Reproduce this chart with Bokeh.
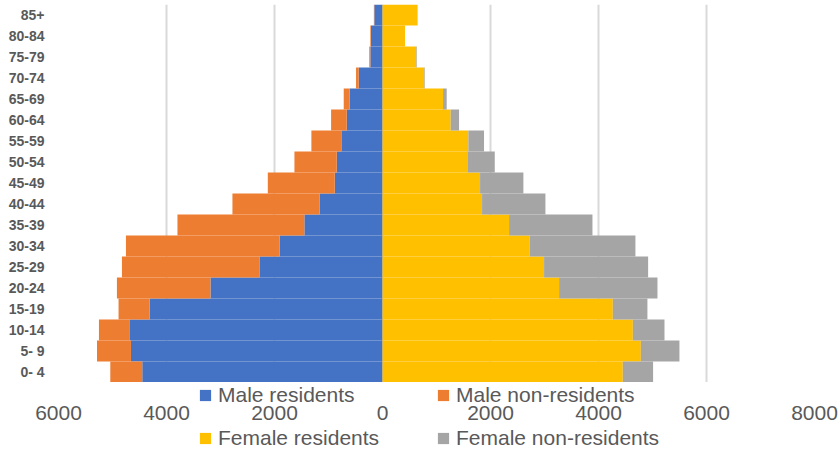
from bokeh.plotting import figure
from bokeh.layouts import column
from bokeh.models import (ColumnDataSource, FactorRange, Range1d, FixedTicker,
                          Legend, LegendItem)
from bokeh.core.properties import value
from bokeh.embed import file_html
from bokeh.resources import INLINE

ages = ["0- 4", "5- 9", "10-14", "15-19", "20-24", "25-29", "30-34", "35-39",
        "40-44", "45-49", "50-54", "55-59", "60-64", "65-69", "70-74", "75-79",
        "80-84", "85+"]
male_residents = [4449, 4658, 4677, 4314, 3186, 2279, 1902, 1447, 1162, 884,
                  847, 762, 662, 607, 440, 225, 213, 152]
male_non_residents = [592, 629, 574, 574, 1732, 2546, 2849, 2350, 1617, 1240,
                      784, 555, 290, 111, 50, 20, 12, 8]
female_residents = [4450, 4784, 4636, 4265, 3270, 2992, 2727, 2344, 1844, 1807,
                    1572, 1590, 1263, 1121, 775, 627, 417, 645]
female_non_residents = [561, 715, 586, 641, 1822, 1927, 1957, 1544, 1173, 802,
                        507, 290, 155, 68, 10, 10, 0, 5]
x_ticks = [-6000, -4000, -2000, 0, 2000, 4000, 6000, 8000]
x_tick_labels = ["6000", "4000", "2000", "0", "2000", "4000", "6000", "8000"]

series_labels = ["Male residents", "Male non-residents",
                 "Female residents", "Female non-residents"]
colors = ["#4472C4", "#ED7D31", "#FFC000", "#A5A5A5"]
TEXT = "#595959"
FONT = "Liberation Sans"

W, LEFT, RIGHT = 839, 58, 25
X0, X1 = -6000, 8000

src = ColumnDataSource(dict(
    age=ages,
    m_res=[-v for v in male_residents],
    m_non=[-v for v in male_non_residents],
    f_res=female_residents,
    f_non=female_non_residents,
))

# ---------- main chart ----------
p = figure(width=W, height=382, y_range=FactorRange(*ages),
           x_range=Range1d(X0, X1),
           output_backend="svg", toolbar_location=None, x_axis_location=None,
           min_border_left=LEFT, min_border_right=RIGHT,
           min_border_top=4, min_border_bottom=0)
p.frame_align = False

p.hbar_stack(["m_res", "m_non"], y="age", height=1.0, source=src,
             color=colors[0:2], line_color=None)
p.hbar_stack(["f_res", "f_non"], y="age", height=1.0, source=src,
             color=colors[2:4], line_color=None)

p.outline_line_color = None
p.ygrid.grid_line_color = None
p.xgrid.grid_line_color = "#D9D9D9"
p.xgrid.grid_line_width = 2
p.xgrid.ticker = FixedTicker(ticks=x_ticks)

ya = p.yaxis[0]
ya.axis_line_color = None
ya.major_tick_line_color = None
ya.minor_tick_line_color = None
ya.major_tick_out = 0
ya.major_label_standoff = 14
ya.major_label_text_font = FONT
ya.major_label_text_font_style = "bold"
ya.major_label_text_font_size = "14px"
ya.major_label_text_color = TEXT

# ---------- bottom strip: legend rows and x tick labels ----------
# same data scale as the chart, frame widened to the full strip width
upp = (X1 - X0) / (W - LEFT - RIGHT)
q = figure(width=W, height=70,
           x_range=Range1d(X0 - LEFT * upp, X1 + RIGHT * upp),
           y_range=Range1d(0, 70),
           output_backend="svg", toolbar_location=None,
           x_axis_location=None, y_axis_location=None,
           min_border_left=0, min_border_right=0,
           min_border_top=0, min_border_bottom=0)
q.frame_align = False
q.outline_line_color = None
q.xgrid.visible = False
q.ygrid.visible = False

q.text(x=x_ticks, y=[39.5] * len(x_ticks), text=x_tick_labels,
       text_align="center", text_baseline="middle",
       text_font=value(FONT), text_font_size="21px", text_color=TEXT)

# zero-width bars used only as legend swatches
swatches = [q.hbar(y=[35], left=[0], right=[0], height=1, fill_color=c,
                   line_color=None) for c in colors]


def make_legend(items, loc):
    return Legend(items=items, location=loc, orientation="horizontal",
                  padding=0, margin=0, spacing=8, glyph_width=14,
                  glyph_height=14, label_standoff=6, label_width=210,
                  label_text_font=FONT, label_text_font_size="21px",
                  label_text_color=TEXT, border_line_color=None,
                  background_fill_alpha=0)


leg1 = make_legend([LegendItem(label=series_labels[0], renderers=[swatches[0]]),
                    LegendItem(label=series_labels[1], renderers=[swatches[1]])],
                   (198, 45))
leg2 = make_legend([LegendItem(label=series_labels[2], renderers=[swatches[2]]),
                    LegendItem(label=series_labels[3], renderers=[swatches[3]])],
                   (198, 2))
q.add_layout(leg1, "center")
q.add_layout(leg2, "center")

layout = column(p, q, spacing=0)
open("out.html", "w").write(file_html(layout, INLINE))
